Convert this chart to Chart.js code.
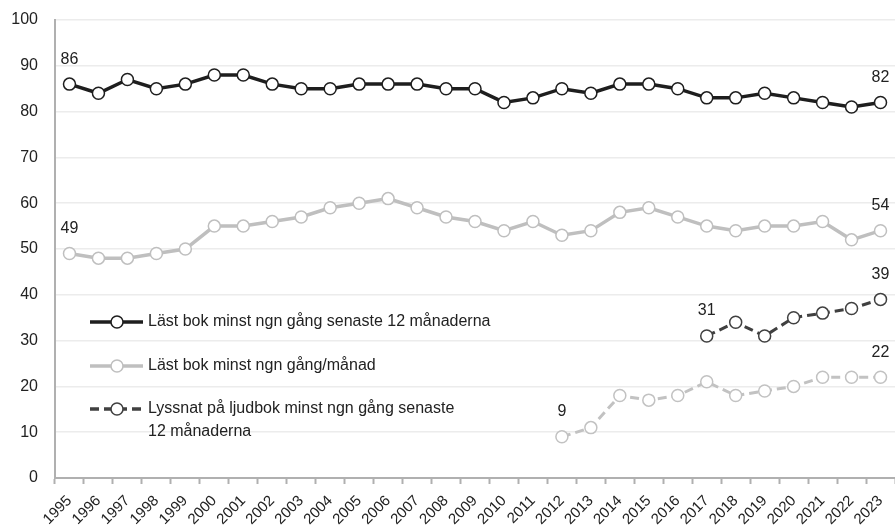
<!DOCTYPE html>
<html>
<head>
<meta charset="utf-8">
<script src="https://cdn.jsdelivr.net/npm/chart.js@4"></script>
<style>
  html, body { margin: 0; padding: 0; background: #fff; }
  #wrap { width: 895px; height: 529px; position: relative; }
</style>
</head>
<body>
<div id="wrap"><canvas id="c"></canvas></div>
<script>
const years = ['1995','1996','1997','1998','1999','2000','2001','2002','2003','2004','2005','2006','2007','2008','2009','2010','2011','2012','2013','2014','2015','2016','2017','2018','2019','2020','2021','2022','2023'];

const readYear = [86, 84, 87, 85, 86, 88, 88, 86, 85, 85, 86, 86, 86, 85, 85, 82, 83, 85, 84, 86, 86, 85, 83, 83, 84, 83, 82, 81, 82];
const readMonth = [49, 48, 48, 49, 50, 55, 55, 56, 57, 59, 60, 61, 59, 57, 56, 54, 56, 53, 54, 58, 59, 57, 55, 54, 55, 55, 56, 52, 54];
const audioYear = [null, null, null, null, null, null, null, null, null, null, null, null, null, null, null, null, null, null, null, null, null, null, 31, 34, 31, 35, 36, 37, 39];
const audioMonth = [null, null, null, null, null, null, null, null, null, null, null, null, null, null, null, null, null, 9, 11, 18, 17, 18, 21, 18, 19, 20, 22, 22, 22];

const yTicks = [0, 10, 20, 30, 40, 50, 60, 70, 80, 90, 100];

const FONT = '"Liberation Sans", Arial, sans-serif';
const TEXT = '#222';

const legendItems = [
    { lines: ['Läst bok minst ngn gång senaste 12 månaderna'], color: '#1e1e1e', dash: [] },
    { lines: ['Läst bok minst ngn gång/månad'], color: '#bfbfbf', dash: [] },
    { lines: ['Lyssnat på ljudbok minst ngn gång senaste', '12 månaderna'], color: '#404040', dash: [9, 5] },
];

// first/last value labels
const endLabels = {
    id: 'endLabels',
    afterDatasetsDraw(chart) {
        const { ctx } = chart;
        ctx.save();
        ctx.font = '16px ' + FONT;
        ctx.fillStyle = TEXT;
        ctx.textAlign = 'center';
        ctx.textBaseline = 'middle';
        chart.data.datasets.forEach((ds, i) => {
            const meta = chart.getDatasetMeta(i);
            const idx = [];
            ds.data.forEach((v, j) => { if (v !== null) idx.push(j); });
            [idx[0], idx[idx.length - 1]].forEach(j => {
                const p = meta.data[j];
                ctx.fillText(String(ds.data[j]), p.x, p.y - 25);
            });
        });
        ctx.restore();
    },
};

const insideLegend = {
    id: 'insideLegend',
    afterDraw(chart) {
        const { ctx, chartArea } = chart;
        const x0 = chartArea.left + 35;
        const rows = [322, 366, 409];
        ctx.save();
        legendItems.forEach((it, i) => {
            const y = rows[i];
            ctx.strokeStyle = it.color;
            ctx.lineWidth = 3.5;
            ctx.setLineDash(it.dash);
            ctx.beginPath();
            ctx.moveTo(x0, y);
            ctx.lineTo(x0 + 53, y);
            ctx.stroke();
            ctx.setLineDash([]);
            ctx.beginPath();
            ctx.arc(x0 + 27, y, 6, 0, Math.PI * 2);
            ctx.fillStyle = '#fff';
            ctx.fill();
            ctx.lineWidth = 1.5;
            ctx.stroke();
            ctx.font = '16px ' + FONT;
            ctx.fillStyle = TEXT;
            ctx.textAlign = 'left';
            ctx.textBaseline = 'middle';
            it.lines.forEach((t, k) => ctx.fillText(t, x0 + 58, y + k * 23));
        });
        ctx.restore();
    },
};

function series(label, data, color, dash, width) {
    return {
        label,
        data,
        borderColor: color,
        borderWidth: width,
        borderDash: dash,
        pointRadius: 6,
        pointBorderWidth: 1.5,
        pointBackgroundColor: '#fff',
        pointBorderColor: color,
        tension: 0,
        spanGaps: false,
        clip: false,
    };
}

new Chart(document.getElementById('c'), {
    type: 'line',
    data: {
        labels: years,
        datasets: [
            series('Läst bok minst ngn gång senaste 12 månaderna', readYear, '#1e1e1e', [], 3.5),
            series('Läst bok minst ngn gång/månad', readMonth, '#bfbfbf', [], 3.5),
            series('Lyssnat på ljudbok minst ngn gång senaste 12 månaderna', audioYear, '#404040', [9, 5], 3),
            series('Lyssnat på ljudbok minst ngn gång/månad', audioMonth, '#c2c2c2', [9, 5], 3),
        ],
    },
    options: {
        responsive: true,
        maintainAspectRatio: false,
        animation: false,
        layout: { autoPadding: false, padding: { top: 20, right: -2, left: 0, bottom: 0 } },
        plugins: {
            legend: { display: false },
            tooltip: { enabled: false },
        },
        scales: {
            x: {
                offset: true,
                grid: {
                    offset: true,
                    drawOnChartArea: false,
                    drawTicks: true,
                    tickLength: 6,
                    color: '#b0b0b0',
                    tickWidth: 2,
                },
                border: { color: '#b0b0b0', width: 2 },
                ticks: {
                    minRotation: 45,
                    maxRotation: 45,
                    autoSkip: false,
                    color: TEXT,
                    font: { family: FONT, size: 15 },
                    padding: 8,
                },
                afterFit(scale) {
                    scale.height = 51;
                    scale.paddingRight = 0;
                    scale.paddingLeft = 0;
                },
            },
            y: {
                min: 0,
                max: 100,
                afterBuildTicks(scale) { scale.ticks = yTicks.map(v => ({ value: v })); },
                grid: { color: '#ececec', lineWidth: 1.5, drawTicks: false },
                border: { color: '#b0b0b0', width: 2 },
                ticks: {
                    color: TEXT,
                    font: { family: FONT, size: 16 },
                    padding: 17,
                },
                afterFit(scale) {
                    scale.width = 55;
                    scale.paddingTop = 0;
                    scale.paddingBottom = 0;
                },
            },
        },
    },
    plugins: [endLabels, insideLegend],
});
</script>
</body>
</html>
